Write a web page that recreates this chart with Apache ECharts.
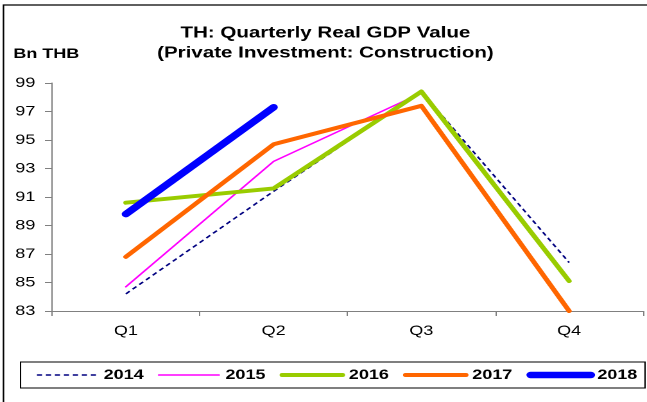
<!DOCTYPE html>
<html>
<head>
<meta charset="utf-8">
<title>TH: Quarterly Real GDP Value</title>
<script src="https://cdn.jsdelivr.net/npm/echarts@6/dist/echarts.min.js"></script>
<style>
  html, body { margin: 0; padding: 0; background: #fff; overflow: hidden; }
  /* the chart is laid out on a narrower canvas and widened to the page */
  #wrap { width: 647px; height: 402px; overflow: hidden; }
  #chart { width: 504px; height: 402px; transform: scaleX(1.2837); transform-origin: 0 0; }
</style>
</head>
<body>
<div id="wrap"><div id="chart"></div></div>
<script>
// Quarterly real GDP, private investment in construction (Bn THB)
const quarters = ['Q1', 'Q2', 'Q3', 'Q4'];
const years = ['2014', '2015', '2016', '2017', '2018'];
const v2014 = [84.2, 91.4, 98.4, 86.4];
const v2015 = [84.7, 93.5, 98.3, 85.1];
const v2016 = [90.6, 91.6, 98.4, 85.1];
const v2017 = [86.8, 94.7, 97.4, 83.0];
const v2018 = [89.8, 97.3];
const yTicks = { min: 83, max: 99, step: 2 };

const FONT = '"Liberation Sans", Arial, sans-serif';
const axisGrey = '#808080';

const styles = [
  { color: '#000080', width: 1.5, type: [4, 3], cap: 'butt' },
  { color: '#FF00FF', width: 1.5, type: 'solid', cap: 'round' },
  { color: '#99CC00', width: 4, type: 'solid', cap: 'round' },
  { color: '#FF6600', width: 4, type: 'solid', cap: 'round' },
  { color: '#0000FF', width: 6.5, type: 'solid', cap: 'round' }
];
const values = [v2014, v2015, v2016, v2017, v2018];

const lineStyleOf = (i) => ({
  color: styles[i].color,
  width: styles[i].width,
  type: styles[i].type,
  cap: styles[i].cap,
  join: 'round'
});

const chart = echarts.init(document.getElementById('chart'), null, { renderer: 'canvas', devicePixelRatio: 2 });

chart.setOption({
  animation: false,
  backgroundColor: '#fff',
  textStyle: { fontFamily: FONT },
  graphic: [
    {
      type: 'rect', silent: true, z: -1,
      shape: { x: 2.7, y: 5, width: 600, height: 500 },
      style: { fill: 'none', stroke: '#000', lineWidth: 1.2 }
    },
    {
      type: 'text', silent: true,
      style: {
        text: 'TH: Quarterly Real GDP Value\n(Private Investment: Construction)',
        x: 253.5, y: 23, textAlign: 'center',
        font: 'bold 16px ' + FONT, fill: '#000', lineHeight: 20
      }
    },
    {
      type: 'text', silent: true,
      style: {
        text: 'Bn THB', x: 10.4, y: 47,
        font: 'bold 14px ' + FONT, fill: '#000'
      }
    }
  ],
  grid: { left: 40.5, right: 3.1, top: 83, bottom: 91, containLabel: false },
  legend: {
    data: years.map((y, i) => ({ name: y, lineStyle: lineStyleOf(i), itemStyle: { opacity: 0 } })),
    left: 16, top: 362, width: 476,
    padding: [6, 6, 6, 12],
    itemWidth: 47, itemHeight: 14, itemGap: 11,
    borderColor: '#000', borderWidth: 1,
    itemStyle: { opacity: 0 },
    textStyle: { fontFamily: FONT, fontWeight: 'bold', fontSize: 14, color: '#000' }
  },
  xAxis: {
    type: 'category',
    data: quarters,
    boundaryGap: true,
    axisLine: { lineStyle: { color: axisGrey, width: 1 } },
    axisTick: { show: true, inside: false, length: 5, interval: 0, lineStyle: { color: axisGrey } },
    axisLabel: { fontFamily: FONT, fontSize: 14, color: '#000', margin: 13 },
    splitLine: { show: false }
  },
  yAxis: {
    type: 'value',
    min: yTicks.min, max: yTicks.max, interval: yTicks.step,
    axisLine: { show: true, lineStyle: { color: axisGrey, width: 1 } },
    axisTick: { show: true, inside: false, length: 5.5, lineStyle: { color: axisGrey } },
    axisLabel: { fontFamily: FONT, fontSize: 14, color: '#000', margin: 13 },
    splitLine: { show: false }
  },
  series: years.map((y, i) => ({
    name: y,
    type: 'line',
    data: values[i],
    symbol: 'none',
    z: 2 + i,
    itemStyle: { color: styles[i].color },
    lineStyle: lineStyleOf(i)
  }))
});
</script>
</body>
</html>
